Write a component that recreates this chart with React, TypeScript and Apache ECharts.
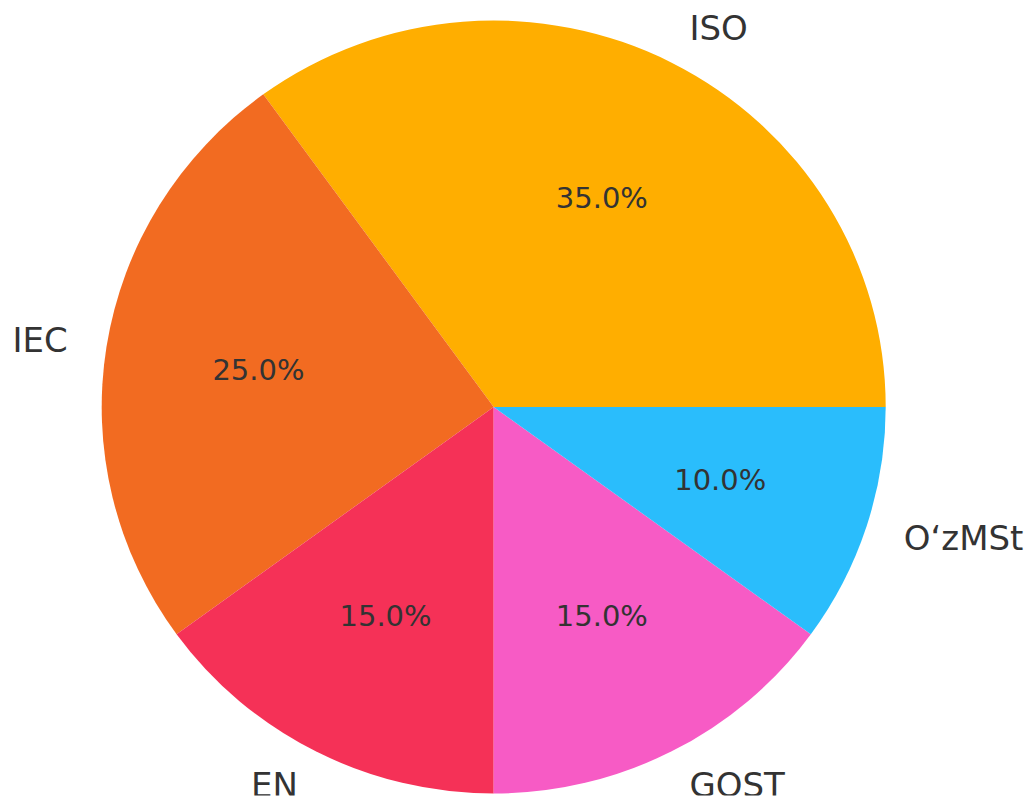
import React, { useEffect, useRef } from "react";
import * as echarts from "echarts";

const categories = ["ISO", "IEC", "EN", "GOST", "O‘zMSt"];
const values = [35, 25, 15, 15, 10];
const colors = ["#FFAE00", "#F26B21", "#F53157", "#F75BC5", "#2ABDFC"];

const CX = 493.7;
const CY = 407;
const R = 392;
const SY = 386.5 / 392;

export default function App() {
  const ref = useRef<HTMLDivElement>(null);
  useEffect(() => {
    if (!ref.current) return;
    const chart = echarts.init(ref.current, undefined, { renderer: "svg" });
    const total = values.reduce((a, b) => a + b, 0);
    const data = categories.map((c, i) => ({
      name: c,
      value: values[i],
      itemStyle: { color: colors[i] },
    }));
    chart.setOption({
      animation: false,
      backgroundColor: "#ffffff",
      series: [
        {
          type: "pie",
          center: [CX, CY],
          radius: [0, R],
          startAngle: 0,
          clockwise: false,
          avoidLabelOverlap: false,
          silent: true,
          data,
          itemStyle: { borderWidth: 0 },
          emphasis: { disabled: true },
          label: {
            show: true,
            position: "outside",
            formatter: "{b}",
            fontFamily: "DejaVu Sans",
            fontSize: 34,
            color: "#333333",
            distanceToLabelLine: 0,
            alignTo: "none",
          },
          labelLine: { show: false, length: R * 0.1, length2: 0 },
        },
        {
          type: "pie",
          center: [CX, CY],
          radius: [R * 0.2, R],
          startAngle: 0,
          clockwise: false,
          avoidLabelOverlap: false,
          silent: true,
          data: categories.map((c, i) => ({ name: c, value: values[i] })),
          itemStyle: { color: "rgba(0,0,0,0)", borderWidth: 0 },
          emphasis: { disabled: true },
          label: {
            show: true,
            position: "inside",
            formatter: (p: any) => ((p.value / total) * 100).toFixed(1) + "%",
            fontFamily: "DejaVu Sans",
            fontSize: 29,
            color: "#333333",
          },
          labelLine: { show: false },
        },
      ],
    });
    return () => chart.dispose();
  }, []);
  return (
    <div
      style={{
        position: "fixed",
        left: 0,
        top: 0,
        width: 1036,
        height: 801,
        overflow: "hidden",
        background: "#ffffff",
      }}
    >
      <div
        ref={ref}
        style={{
          width: 1036,
          height: 801,
          transform: `scaleY(${SY})`,
          transformOrigin: `0px ${CY}px`,
        }}
      />
    </div>
  );
}
